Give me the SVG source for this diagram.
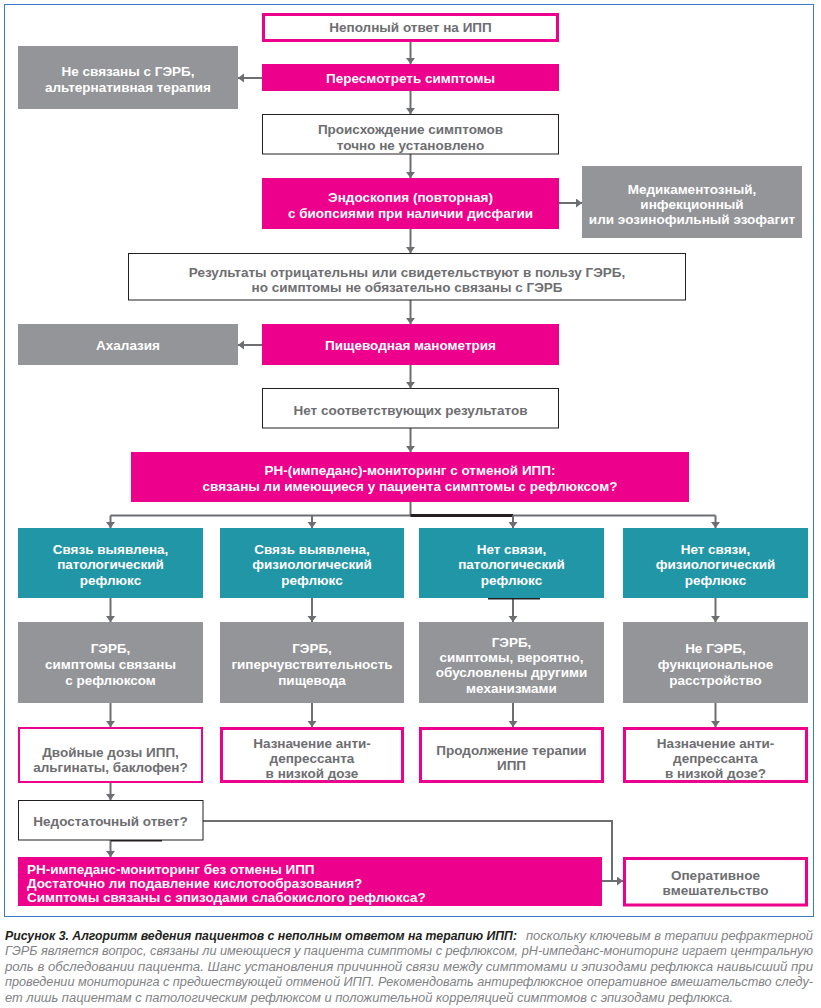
<svg xmlns="http://www.w3.org/2000/svg" width="821" height="1008" viewBox="0 0 821 1008">
<defs>
<style>
.t{font-family:"Liberation Sans",Arial,sans-serif;font-weight:bold;font-size:13.5px;text-anchor:middle}
.w{fill:#ffffff}
.g{fill:#6d6e71}
.pf{fill:#ec008c}
.po{fill:#ffffff;stroke:#ec008c;stroke-width:3}
.gr{fill:#939598}
.te{fill:#2196a6}
.wb{fill:#ffffff;stroke:#231f20;stroke-width:1}
.c{fill:none;stroke:#6d6e71;stroke-width:2}
.a{marker-end:url(#ah)}
.bar{stroke:#231f20;stroke-width:3}
.cap{font-family:"Liberation Sans",Arial,sans-serif;font-style:italic;font-size:12px}
</style>
<marker id="ah" markerUnits="userSpaceOnUse" markerWidth="10" markerHeight="10" refX="6" refY="4.5" orient="auto">
<path d="M0,0 L6,4.5 L0,9 z" fill="#6d6e71"/>
</marker>
</defs>
<rect x="0" y="0" width="821" height="1008" fill="#ffffff"/>
<rect x="4.5" y="4.5" width="809" height="912" fill="none" stroke="#3d7cc9" stroke-width="1"/>

<g id="connectors">
<line class="c a" x1="410.5" y1="42" x2="410.5" y2="64"/>
<line class="c a" x1="262" y1="78" x2="238" y2="78"/>
<line class="c a" x1="410.5" y1="91" x2="410.5" y2="114"/>
<line class="c a" x1="410.5" y1="154" x2="410.5" y2="178"/>
<line class="c a" x1="559" y1="203" x2="582" y2="203"/>
<line class="c a" x1="410.5" y1="229" x2="410.5" y2="253"/>
<line class="c a" x1="410.5" y1="300" x2="410.5" y2="324"/>
<line class="c a" x1="262" y1="345" x2="238" y2="345"/>
<line class="c a" x1="410.5" y1="365" x2="410.5" y2="388"/>
<line class="c a" x1="410.5" y1="428" x2="410.5" y2="452"/>
<polyline class="c" points="410.5,502 410.5,515.5"/>
<line class="c" x1="110.5" y1="515.5" x2="715.5" y2="515.5"/>
<line class="bar" x1="410.5" y1="515.5" x2="513" y2="515.5"/>
<line class="c a" x1="110.5" y1="515.5" x2="110.5" y2="528"/>
<line class="c a" x1="312" y1="515.5" x2="312" y2="528"/>
<line class="c a" x1="513" y1="515.5" x2="513" y2="528"/>
<line class="c a" x1="715.5" y1="515.5" x2="715.5" y2="528"/>
<line class="c a" x1="110.5" y1="598" x2="110.5" y2="622"/>
<line class="c a" x1="312" y1="598" x2="312" y2="622"/>
<line class="c a" x1="513" y1="598" x2="513" y2="622"/>
<line class="c a" x1="715.5" y1="598" x2="715.5" y2="622"/>
<line class="bar" x1="488" y1="598" x2="540" y2="598"/>
<line class="c a" x1="110.5" y1="703" x2="110.5" y2="727"/>
<line class="c a" x1="312" y1="703" x2="312" y2="727"/>
<line class="c a" x1="513" y1="703" x2="513" y2="727"/>
<line class="c a" x1="715.5" y1="703" x2="715.5" y2="727"/>
<line class="c a" x1="110.5" y1="783" x2="110.5" y2="800"/>
<line class="c a" x1="110.5" y1="840" x2="110.5" y2="857"/>
<line class="bar" x1="111" y1="840" x2="162" y2="840"/>
<polyline class="c" points="203,821 612,821 612,881"/>
<line class="c a" x1="602" y1="881" x2="623" y2="881"/>
</g>

<g id="n1"><rect class="po" x="263.5" y="14.5" width="294" height="26"/><text class="t g" x="410.5" y="32">Неполный ответ на ИПП</text></g>
<g id="n2"><rect class="pf" x="262" y="64" width="297" height="27"/><text class="t w" x="410.5" y="82.5">Пересмотреть симптомы</text></g>
<g id="n3"><rect class="gr" x="18" y="46" width="220" height="63"/><text class="t w" x="128" y="75.5">Не связаны с ГЭРБ,</text><text class="t w" x="128" y="91.5">альтернативная терапия</text></g>
<g id="n4"><rect class="wb" x="262.5" y="114.5" width="296" height="39.5"/><text class="t g" x="410.5" y="133.5">Происхождение симптомов</text><text class="t g" x="410.5" y="149.5">точно не установлено</text></g>
<g id="n5"><rect class="pf" x="262" y="178" width="297" height="51"/><text class="t w" x="410.5" y="201.5">Эндоскопия (повторная)</text><text class="t w" x="410.5" y="217.5">с биопсиями при наличии дисфагии</text></g>
<g id="n6"><rect class="gr" x="582" y="166" width="220" height="72"/><text class="t w" x="692" y="193.5">Медикаментозный,</text><text class="t w" x="692" y="208.5">инфекционный</text><text class="t w" x="692" y="223.5">или эозинофильный эзофагит</text></g>
<g id="n7"><rect class="wb" x="128.5" y="253.5" width="557" height="46.5"/><text class="t g" x="407" y="276.5">Результаты отрицательны или свидетельствуют в пользу ГЭРБ,</text><text class="t g" x="407" y="291.5">но симптомы не обязательно связаны с ГЭРБ</text></g>
<g id="n8"><rect class="gr" x="18" y="324" width="220" height="41"/><text class="t w" x="128" y="349.5">Ахалазия</text></g>
<g id="n9"><rect class="pf" x="262" y="324" width="297" height="41"/><text class="t w" x="410.5" y="349.5">Пищеводная манометрия</text></g>
<g id="n10"><rect class="wb" x="262.5" y="388.5" width="296" height="39.5"/><text class="t g" x="410.5" y="414.5">Нет соответствующих результатов</text></g>
<g id="n11"><rect class="pf" x="131" y="452" width="558" height="50"/><text class="t w" x="410" y="474.5">РН-(импеданс)-мониторинг с отменой ИПП:</text><text class="t w" x="410" y="490.5">связаны ли имеющиеся у пациента симптомы с рефлюксом?</text></g>

<g id="n12"><rect class="te" x="18" y="528" width="185" height="70"/><text class="t w" x="110.5" y="553.5">Связь выявлена,</text><text class="t w" x="110.5" y="569">патологический</text><text class="t w" x="110.5" y="584.5">рефлюкс</text></g>
<g id="n13"><rect class="te" x="220" y="528" width="184" height="70"/><text class="t w" x="312" y="553.5">Связь выявлена,</text><text class="t w" x="312" y="569">физиологический</text><text class="t w" x="312" y="584.5">рефлюкс</text></g>
<g id="n14"><rect class="te" x="419" y="528" width="185" height="70"/><text class="t w" x="511.5" y="553.5">Нет связи,</text><text class="t w" x="511.5" y="569">патологический</text><text class="t w" x="511.5" y="584.5">рефлюкс</text></g>
<g id="n15"><rect class="te" x="623" y="528" width="185" height="70"/><text class="t w" x="715.5" y="553.5">Нет связи,</text><text class="t w" x="715.5" y="569">физиологический</text><text class="t w" x="715.5" y="584.5">рефлюкс</text></g>

<g id="n16"><rect class="gr" x="18" y="622" width="185" height="81"/><text class="t w" x="110.5" y="652.5">ГЭРБ,</text><text class="t w" x="110.5" y="668.5">симптомы связаны</text><text class="t w" x="110.5" y="684.5">с рефлюксом</text></g>
<g id="n17"><rect class="gr" x="220" y="622" width="184" height="81"/><text class="t w" x="312" y="652.5">ГЭРБ,</text><text class="t w" x="312" y="668.5">гиперчувствительность</text><text class="t w" x="312" y="684.5">пищевода</text></g>
<g id="n18"><rect class="gr" x="419" y="622" width="185" height="81"/><text class="t w" x="511.5" y="646.5">ГЭРБ,</text><text class="t w" x="511.5" y="661.5">симптомы, вероятно,</text><text class="t w" x="511.5" y="677">обусловлены другими</text><text class="t w" x="511.5" y="692.5">механизмами</text></g>
<g id="n19"><rect class="gr" x="623" y="622" width="185" height="81"/><text class="t w" x="715.5" y="652.5">Не ГЭРБ,</text><text class="t w" x="715.5" y="668.5">функциональное</text><text class="t w" x="715.5" y="684.5">расстройство</text></g>

<g id="n20"><rect x="19" y="728" width="183" height="54" fill="#ffffff" stroke="#ec008c" stroke-width="2"/><text class="t g" x="110.5" y="756.5">Двойные дозы ИПП,</text><text class="t g" x="110.5" y="771.5">альгинаты, баклофен?</text></g>
<g id="n21"><rect class="po" x="221.5" y="728.5" width="181" height="53"/><text class="t g" x="312" y="747.5">Назначение анти-</text><text class="t g" x="312" y="762.5">депрессанта</text><text class="t g" x="312" y="777.5">в низкой дозе</text></g>
<g id="n22"><rect class="po" x="420.5" y="728.5" width="182" height="53"/><text class="t g" x="511.5" y="754.5">Продолжение терапии</text><text class="t g" x="511.5" y="769.5">ИПП</text></g>
<g id="n23"><rect class="po" x="624.5" y="728.5" width="182" height="53"/><text class="t g" x="715.5" y="747.5">Назначение анти-</text><text class="t g" x="715.5" y="762.5">депрессанта</text><text class="t g" x="715.5" y="777.5">в низкой дозе?</text></g>
<g id="n24"><rect class="wb" x="18.5" y="800.5" width="184.5" height="39.5"/><text class="t g" x="110.5" y="826">Недостаточный ответ?</text></g>
<g id="n25"><rect class="pf" x="18" y="857" width="584" height="49"/><text class="t w" x="27" y="873.5" font-size="12" style="text-anchor:start">РН-импеданс-мониторинг без отмены ИПП</text><text class="t w" x="27" y="887.5" font-size="12" style="text-anchor:start">Достаточно ли подавление кислотообразования?</text><text class="t w" x="27" y="901.5" font-size="12" style="text-anchor:start">Симптомы связаны с эпизодами слабокислого рефлюкса?</text></g>
<g id="n26"><rect class="po" x="624.5" y="858.5" width="182" height="46.5"/><text class="t g" x="715.5" y="879.5">Оперативное</text><text class="t g" x="715.5" y="894.5">вмешательство</text></g>

<g id="caption">
<text class="cap" y="939.5"><tspan x="5" font-weight="bold" fill="#231f20" textLength="512" lengthAdjust="spacingAndGlyphs">Рисунок 3.  Алгоритм ведения пациентов с неполным ответом на терапию ИПП:</tspan><tspan x="526" fill="#808285" textLength="287" lengthAdjust="spacingAndGlyphs">поскольку ключевым в терапии рефрактерной</tspan></text>
<text class="cap" x="5" y="955" fill="#808285" textLength="808" lengthAdjust="spacingAndGlyphs">ГЭРБ является вопрос, связаны ли имеющиеся у пациента симптомы с рефлюксом, рН-импеданс-мониторинг играет центральную</text>
<text class="cap" x="5" y="970.5" fill="#808285" textLength="808" lengthAdjust="spacingAndGlyphs">роль в обследовании пациента. Шанс установления причинной связи между симптомами и эпизодами рефлюкса наивысший при</text>
<text class="cap" x="5" y="986" fill="#808285" textLength="808" lengthAdjust="spacingAndGlyphs">проведении мониторинга с предшествующей отменой ИПП. Рекомендовать антирефлюксное оперативное вмешательство следу-</text>
<text class="cap" x="5" y="1001.5" fill="#808285" textLength="728" lengthAdjust="spacingAndGlyphs">ет лишь пациентам с патологическим рефлюксом и положительной корреляцией симптомов с эпизодами рефлюкса.</text>
</g>
</svg>
